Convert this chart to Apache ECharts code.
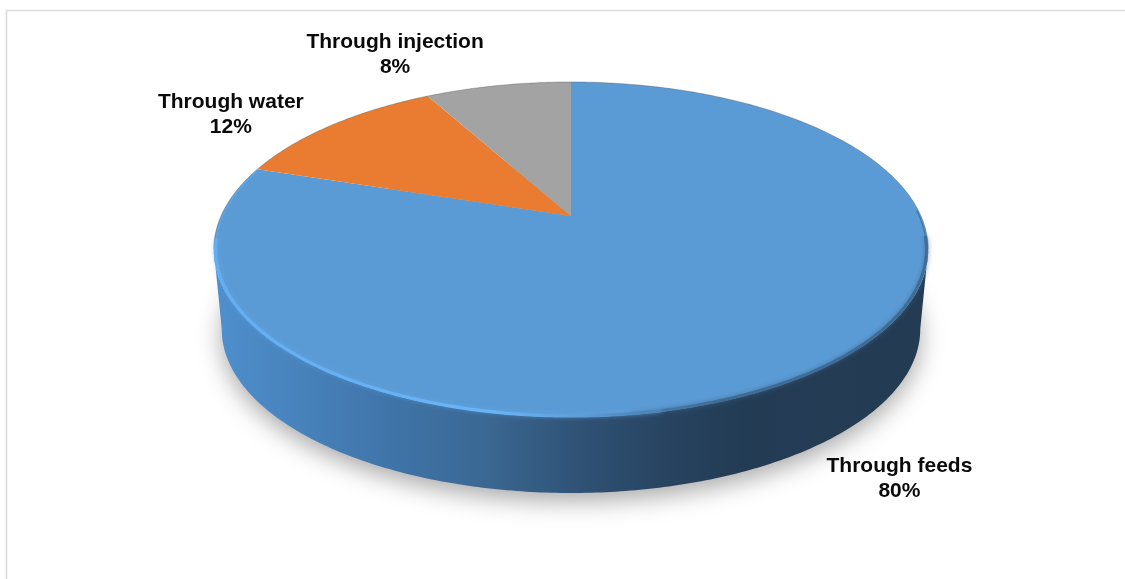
<!DOCTYPE html>
<html>
<head>
<meta charset="utf-8">
<style>html,body{margin:0;padding:0;background:#fff}#c{width:1125px;height:579px}</style>
<script src="https://cdn.jsdelivr.net/npm/echarts@6/dist/echarts.min.js"></script>
</head>
<body>
<div id="c"></div>
<script>
// --- chart data ---
const categories = ['Through feeds', 'Through water', 'Through injection'];
const values = [80, 12, 8];
const colors = ['#5b9bd5', '#e97c30', '#a3a3a3'];
const labelOffsets = [[83, 108], [-101, -10], [-103, -31]]; // label centre relative to slice rim midpoint

// --- projected disc geometry ---
const CX = 571, APEX_Y = 216, A = 350, B = 160.8, K = 0.2;
const BASE_Y = 296.5, BASE_S = 0.9776;
const FRONT_A = 101.5, FRONT_B = 258.5; // silhouette angles (deg clockwise from 12 o'clock)
const total = values.reduce((a, b) => a + b, 0);

function project(deg, y0, s) {
  const t = deg * Math.PI / 180, u = Math.sin(t), v = Math.cos(t), d = 1 + K * v;
  return [CX + s * A * u / d, y0 - s * B * v / d];
}
const top_ = d => project(d, APEX_Y, 1);
const inset = d => project(d, APEX_Y, 0.995);
const base = d => project(d, BASE_Y, BASE_S);
function arc(fn, a, b) {
  const pts = [], n = Math.max(2, Math.ceil(Math.abs(b - a) * 1.5));
  for (let i = 0; i <= n; i++) pts.push(fn(a + (b - a) * i / n));
  return pts;
}
function sliceRange(i) {
  let s = 0;
  for (let j = 0; j < i; j++) s += values[j];
  return [s / total * 360, (s + values[i]) / total * 360];
}

function renderShadow() {
  return {
    type: 'polygon',
    shape: { points: arc(base, 0, 360) },
    style: { fill: '#bbb', shadowColor: 'rgba(0,0,0,0.34)', shadowBlur: 24, shadowOffsetY: 8 }
  };
}

function renderSlice(params, api) {
  const i = params.dataIndex, [a, b] = sliceRange(i), children = [];
  const fa = Math.max(a, FRONT_A), fb = Math.min(b, FRONT_B);
  // side wall
  if (fb > fa) {
    children.push({
      type: 'polygon',
      shape: { points: arc(top_, fa, fb).concat(arc(base, fb, fa)) },
      style: {
        fill: { type: 'linear', x: 214, y: 0, x2: 928, y2: 0, global: true, colorStops: [
          { offset: 0, color: '#4e8fcd' }, { offset: 0.08, color: '#4a87c2' },
          { offset: 0.25, color: '#3f74a8' }, { offset: 0.38, color: '#3b6893' },
          { offset: 0.52, color: '#2f5174' }, { offset: 0.64, color: '#27435f' },
          { offset: 0.74, color: '#233c55' }, { offset: 1, color: '#243b52' }
        ] }
      }
    });
  }
  // top face
  children.push({
    type: 'polygon',
    shape: { points: [top_(a)].concat(arc(top_, a, b)).concat([[CX, APEX_Y]]) },
    style: { fill: colors[i] }
  });
  // thin dark line on the back rim
  [[a, Math.min(b, FRONT_A)], [Math.max(a, FRONT_B), b]].forEach(r => {
    if (r[1] > r[0]) children.push({
      type: 'polyline',
      shape: { points: arc(top_, r[0], r[1]) },
      style: { fill: null, stroke: 'rgba(70,70,70,0.42)', lineWidth: 0.8 }
    });
  });
  // bevel along the front rim: dark and blurred on the right, bright on the left
  if (fb > fa) {
    children.push({
      type: 'polyline',
      shape: { points: arc(inset, 88, 97) },
      style: { fill: null, lineWidth: 1.3, stroke: 'rgba(50,85,120,0.55)' }
    });
    children.push({
      type: 'polyline',
      shape: { points: arc(inset, 97, 172) },
      style: {
        fill: null, lineWidth: 3,
        shadowBlur: 5, shadowColor: 'rgba(62,104,147,0.75)',
        stroke: { type: 'linear', x: 600, y: 0, x2: 720, y2: 0, global: true, colorStops: [
          { offset: 0, color: '#4f86ba' }, { offset: 1, color: '#3f6c97' }
        ] }
      }
    });
    children.push({
      type: 'polyline',
      shape: { points: arc(inset, 168, 262) },
      style: {
        fill: null, lineWidth: 3.2,
        shadowBlur: 4, shadowColor: 'rgba(100,170,240,0.5)',
        stroke: { type: 'linear', x: 214, y: 0, x2: 640, y2: 0, global: true, colorStops: [
          { offset: 0, color: '#63adf1' }, { offset: 0.65, color: '#6ab4f8' },
          { offset: 0.85, color: '#5f9fda' }, { offset: 1, color: '#4f86ba' }
        ] }
      }
    });
    children.push({
      type: 'polyline',
      shape: { points: arc(inset, 262, Math.min(b, 287)) },
      style: { fill: null, lineWidth: 2, stroke: 'rgba(100,172,240,0.5)' }
    });
  }
  // label
  const mid = top_((a + b) / 2);
  children.push({
    type: 'text',
    x: mid[0] + labelOffsets[i][0],
    y: mid[1] + labelOffsets[i][1],
    style: {
      text: categories[i] + '\n' + api.value(0) + '%',
      fill: '#0a0a0a',
      font: 'bold 21px "Liberation Sans", Arial, sans-serif',
      lineHeight: 25,
      align: 'center',
      verticalAlign: 'middle'
    }
  });
  return { type: 'group', children };
}

const chart = echarts.init(document.getElementById('c'), null, { renderer: 'canvas' });
chart.setOption({
  animation: false,
  backgroundColor: '#ffffff',
  graphic: [{
    type: 'polyline',
    silent: true,
    z: -1,
    shape: { points: [[6.5, 579], [6.5, 10.5], [1125, 10.5]] },
    style: { fill: null, stroke: '#dcdcdc', lineWidth: 1.6 }
  }],
  series: [
    { type: 'custom', coordinateSystem: 'none', silent: true, data: [total], renderItem: renderShadow },
    { type: 'custom', coordinateSystem: 'none', silent: true,
      data: values.map((v, i) => ({ name: categories[i], value: [v] })),
      renderItem: renderSlice }
  ]
});
</script>
</body>
</html>
